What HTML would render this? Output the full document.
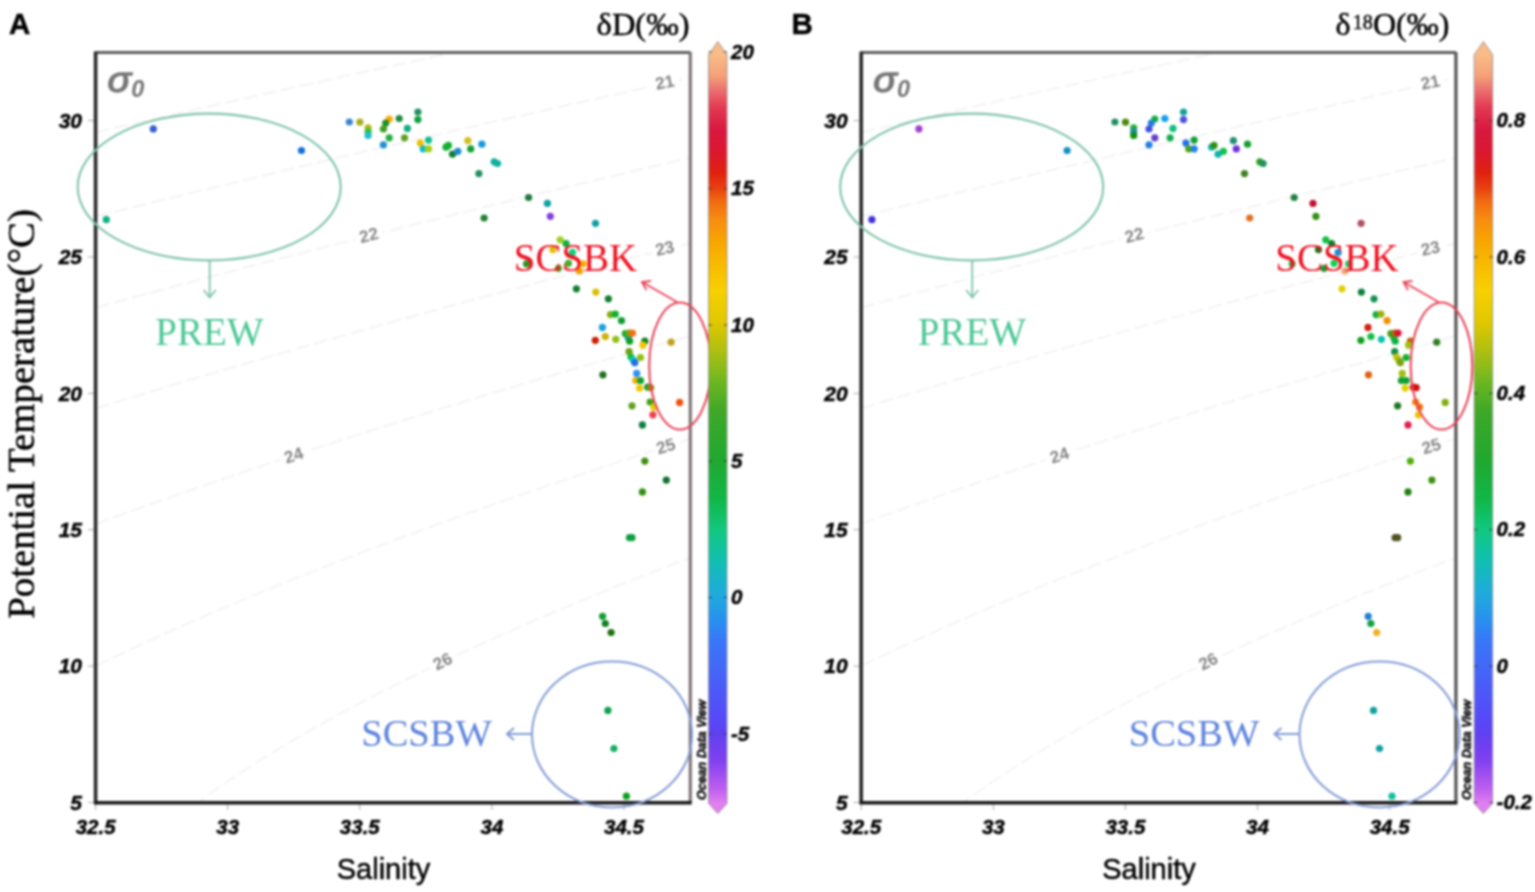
<!DOCTYPE html>
<html><head><meta charset="utf-8"><title>T-S diagrams</title>
<style>html,body{margin:0;padding:0;background:#fff;}svg{display:block;}#fig{filter:blur(0.8px);}text.k{stroke:#000;stroke-width:0.45px;}</style></head>
<body>
<div id="fig">
<svg width="1535" height="892" viewBox="0 0 1535 892">
<defs><clipPath id="clipA"><rect x="96" y="54" width="594" height="748"/></clipPath><clipPath id="clipB"><rect x="861.6" y="54" width="594" height="748"/></clipPath></defs>
<rect width="1535" height="892" fill="#fff"/>
<g clip-path="url(#clipA)">
<path d="M95.6,132.3 L105.7,130.0 L115.8,127.6 L125.8,125.3 L135.9,123.0 L146.0,120.7 L156.1,118.4 L166.1,116.1 L176.2,113.8 L186.3,111.6 L196.4,109.3 L206.4,107.0 L216.5,104.7 L226.6,102.5 L236.7,100.2 L246.7,98.0 L256.8,95.7 L266.9,93.5 L277.0,91.2 L287.0,89.0 L297.1,86.8 L307.2,84.5 L317.3,82.3 L327.3,80.1 L337.4,77.9 L347.5,75.6 L357.6,73.4 L367.6,71.2 L377.7,69.0 L387.8,66.8 L397.9,64.6 L407.9,62.4 L418.0,60.3 L428.1,58.1 L438.2,55.9 L448.2,53.7 L458.3,51.6 L468.4,49.4 L478.5,47.2 L488.5,45.1 L498.6,42.9 L508.7,40.8 L518.8,38.6 L528.8,36.5 L538.9,34.3 L549.0,32.2 L559.1,30.1 L569.1,27.9 L579.2,25.8 L589.3,23.7 L599.4,21.6 L609.4,19.4 L619.5,17.3 L629.6,15.2 L639.7,13.1 L649.7,11.0 L659.8,8.9 L669.9,6.8 L680.0,4.7 L690.0,2.6" fill="none" stroke="#ebe8e8" stroke-width="1" stroke-dasharray="14 5"/>
<path d="M95.6,216.5 L105.7,214.0 L115.8,211.5 L125.8,209.0 L135.9,206.5 L146.0,204.0 L156.1,201.5 L166.1,199.1 L176.2,196.6 L186.3,194.2 L196.4,191.7 L206.4,189.3 L216.5,186.8 L226.6,184.4 L236.7,182.0 L246.7,179.6 L256.8,177.1 L266.9,174.7 L277.0,172.3 L287.0,169.9 L297.1,167.5 L307.2,165.1 L317.3,162.8 L327.3,160.4 L337.4,158.0 L347.5,155.6 L357.6,153.3 L367.6,150.9 L377.7,148.6 L387.8,146.2 L397.9,143.9 L407.9,141.6 L418.0,139.2 L428.1,136.9 L438.2,134.6 L448.2,132.3 L458.3,129.9 L468.4,127.6 L478.5,125.3 L488.5,123.0 L498.6,120.7 L508.7,118.5 L518.8,116.2 L528.8,113.9 L538.9,111.6 L549.0,109.3 L559.1,107.1 L569.1,104.8 L579.2,102.6 L589.3,100.3 L599.4,98.1 L609.4,95.8 L619.5,93.6 L629.6,91.3 L639.7,89.1 L649.7,86.9 L659.8,84.7 L669.9,82.4 L680.0,80.2 L690.0,78.0" fill="none" stroke="#ebe8e8" stroke-width="1" stroke-dasharray="14 5"/>
<path d="M95.6,307.7 L105.7,304.9 L115.8,302.2 L125.8,299.4 L135.9,296.7 L146.0,294.0 L156.1,291.3 L166.1,288.6 L176.2,285.9 L186.3,283.2 L196.4,280.5 L206.4,277.9 L216.5,275.2 L226.6,272.6 L236.7,269.9 L246.7,267.3 L256.8,264.6 L266.9,262.0 L277.0,259.4 L287.0,256.8 L297.1,254.2 L307.2,251.6 L317.3,249.0 L327.3,246.4 L337.4,243.9 L347.5,241.3 L357.6,238.8 L367.6,236.2 L377.7,233.7 L387.8,231.1 L397.9,228.6 L407.9,226.1 L418.0,223.5 L428.1,221.0 L438.2,218.5 L448.2,216.0 L458.3,213.5 L468.4,211.1 L478.5,208.6 L488.5,206.1 L498.6,203.6 L508.7,201.2 L518.8,198.7 L528.8,196.3 L538.9,193.8 L549.0,191.4 L559.1,189.0 L569.1,186.5 L579.2,184.1 L589.3,181.7 L599.4,179.3 L609.4,176.9 L619.5,174.5 L629.6,172.1 L639.7,169.7 L649.7,167.3 L659.8,164.9 L669.9,162.6 L680.0,160.2 L690.0,157.8" fill="none" stroke="#ebe8e8" stroke-width="1" stroke-dasharray="14 5"/>
<path d="M95.6,408.5 L105.7,405.4 L115.8,402.3 L125.8,399.2 L135.9,396.2 L146.0,393.1 L156.1,390.1 L166.1,387.0 L176.2,384.0 L186.3,381.0 L196.4,378.0 L206.4,375.0 L216.5,372.1 L226.6,369.1 L236.7,366.2 L246.7,363.2 L256.8,360.3 L266.9,357.4 L277.0,354.5 L287.0,351.6 L297.1,348.7 L307.2,345.8 L317.3,343.0 L327.3,340.1 L337.4,337.3 L347.5,334.4 L357.6,331.6 L367.6,328.8 L377.7,326.0 L387.8,323.2 L397.9,320.4 L407.9,317.6 L418.0,314.9 L428.1,312.1 L438.2,309.4 L448.2,306.6 L458.3,303.9 L468.4,301.2 L478.5,298.5 L488.5,295.7 L498.6,293.0 L508.7,290.4 L518.8,287.7 L528.8,285.0 L538.9,282.3 L549.0,279.7 L559.1,277.0 L569.1,274.4 L579.2,271.7 L589.3,269.1 L599.4,266.5 L609.4,263.9 L619.5,261.3 L629.6,258.7 L639.7,256.1 L649.7,253.5 L659.8,250.9 L669.9,248.3 L680.0,245.8 L690.0,243.2" fill="none" stroke="#ebe8e8" stroke-width="1" stroke-dasharray="14 5"/>
<path d="M95.6,523.9 L105.7,520.3 L115.8,516.6 L125.8,513.0 L135.9,509.4 L146.0,505.8 L156.1,502.2 L166.1,498.7 L176.2,495.1 L186.3,491.6 L196.4,488.2 L206.4,484.7 L216.5,481.2 L226.6,477.8 L236.7,474.4 L246.7,471.0 L256.8,467.6 L266.9,464.3 L277.0,461.0 L287.0,457.6 L297.1,454.3 L307.2,451.0 L317.3,447.8 L327.3,444.5 L337.4,441.3 L347.5,438.0 L357.6,434.8 L367.6,431.6 L377.7,428.4 L387.8,425.3 L397.9,422.1 L407.9,419.0 L418.0,415.9 L428.1,412.7 L438.2,409.6 L448.2,406.6 L458.3,403.5 L468.4,400.4 L478.5,397.4 L488.5,394.3 L498.6,391.3 L508.7,388.3 L518.8,385.3 L528.8,382.3 L538.9,379.3 L549.0,376.4 L559.1,373.4 L569.1,370.5 L579.2,367.5 L589.3,364.6 L599.4,361.7 L609.4,358.8 L619.5,355.9 L629.6,353.0 L639.7,350.2 L649.7,347.3 L659.8,344.4 L669.9,341.6 L680.0,338.8 L690.0,336.0" fill="none" stroke="#ebe8e8" stroke-width="1" stroke-dasharray="14 5"/>
<path d="M95.6,666.0 L105.7,661.1 L115.8,656.3 L125.8,651.6 L135.9,646.9 L146.0,642.2 L156.1,637.6 L166.1,633.1 L176.2,628.6 L186.3,624.1 L196.4,619.7 L206.4,615.4 L216.5,611.0 L226.6,606.7 L236.7,602.5 L246.7,598.3 L256.8,594.1 L266.9,590.0 L277.0,585.8 L287.0,581.8 L297.1,577.7 L307.2,573.7 L317.3,569.7 L327.3,565.8 L337.4,561.9 L347.5,558.0 L357.6,554.1 L367.6,550.3 L377.7,546.5 L387.8,542.7 L397.9,538.9 L407.9,535.2 L418.0,531.5 L428.1,527.8 L438.2,524.1 L448.2,520.5 L458.3,516.9 L468.4,513.3 L478.5,509.7 L488.5,506.1 L498.6,502.6 L508.7,499.1 L518.8,495.6 L528.8,492.1 L538.9,488.7 L549.0,485.2 L559.1,481.8 L569.1,478.4 L579.2,475.0 L589.3,471.7 L599.4,468.3 L609.4,465.0 L619.5,461.7 L629.6,458.4 L639.7,455.1 L649.7,451.8 L659.8,448.6 L669.9,445.3 L680.0,442.1 L690.0,438.9" fill="none" stroke="#ebe8e8" stroke-width="1" stroke-dasharray="14 5"/>
<path d="M95.6,896.4 L105.7,884.5 L115.8,873.4 L125.8,863.1 L135.9,853.4 L146.0,844.2 L156.1,835.4 L166.1,827.0 L176.2,818.9 L186.3,811.1 L196.4,803.5 L206.4,796.2 L216.5,789.0 L226.6,782.1 L236.7,775.4 L246.7,768.8 L256.8,762.3 L266.9,756.0 L277.0,749.9 L287.0,743.8 L297.1,737.9 L307.2,732.1 L317.3,726.4 L327.3,720.7 L337.4,715.2 L347.5,709.8 L357.6,704.4 L367.6,699.1 L377.7,693.9 L387.8,688.8 L397.9,683.7 L407.9,678.7 L418.0,673.8 L428.1,668.9 L438.2,664.1 L448.2,659.3 L458.3,654.6 L468.4,649.9 L478.5,645.3 L488.5,640.8 L498.6,636.3 L508.7,631.8 L518.8,627.4 L528.8,623.0 L538.9,618.6 L549.0,614.3 L559.1,610.1 L569.1,605.9 L579.2,601.7 L589.3,597.5 L599.4,593.4 L609.4,589.3 L619.5,585.2 L629.6,581.2 L639.7,577.2 L649.7,573.3 L659.8,569.3 L669.9,565.4 L680.0,561.6 L690.0,557.7" fill="none" stroke="#ebe8e8" stroke-width="1" stroke-dasharray="14 5"/>
<rect x="651" y="73" width="28" height="20" fill="#fff" transform="rotate(-12 665 83)"/>
<text x="665" y="88" text-anchor="middle" font-family="Liberation Sans, sans-serif" font-weight="bold" font-size="17" fill="#858585" transform="rotate(-12 665 83)">21</text>
<rect x="355" y="226" width="28" height="20" fill="#fff" transform="rotate(-14 369 236)"/>
<text x="369" y="241" text-anchor="middle" font-family="Liberation Sans, sans-serif" font-weight="bold" font-size="17" fill="#858585" transform="rotate(-14 369 236)">22</text>
<rect x="651" y="239" width="28" height="20" fill="#fff" transform="rotate(-13 665 249)"/>
<text x="665" y="254" text-anchor="middle" font-family="Liberation Sans, sans-serif" font-weight="bold" font-size="17" fill="#858585" transform="rotate(-13 665 249)">23</text>
<rect x="280" y="446" width="28" height="20" fill="#fff" transform="rotate(-18 294 456)"/>
<text x="294" y="461" text-anchor="middle" font-family="Liberation Sans, sans-serif" font-weight="bold" font-size="17" fill="#858585" transform="rotate(-18 294 456)">24</text>
<rect x="652" y="437" width="28" height="20" fill="#fff" transform="rotate(-17 666 447)"/>
<text x="666" y="452" text-anchor="middle" font-family="Liberation Sans, sans-serif" font-weight="bold" font-size="17" fill="#858585" transform="rotate(-17 666 447)">25</text>
<rect x="429" y="652" width="28" height="20" fill="#fff" transform="rotate(-27 443 662)"/>
<text x="443" y="667" text-anchor="middle" font-family="Liberation Sans, sans-serif" font-weight="bold" font-size="17" fill="#858585" transform="rotate(-27 443 662)">26</text>
</g>
<line x1="88" y1="802.5" x2="94" y2="802.5" stroke="#aaa" stroke-width="1"/>
<text x="82" y="809.8" text-anchor="end" class="k" font-family="Liberation Sans, sans-serif" font-weight="bold" font-style="italic" font-size="21">5</text>
<line x1="88" y1="666.1" x2="94" y2="666.1" stroke="#aaa" stroke-width="1"/>
<text x="82" y="673.4" text-anchor="end" class="k" font-family="Liberation Sans, sans-serif" font-weight="bold" font-style="italic" font-size="21">10</text>
<line x1="88" y1="529.7" x2="94" y2="529.7" stroke="#aaa" stroke-width="1"/>
<text x="82" y="537.0" text-anchor="end" class="k" font-family="Liberation Sans, sans-serif" font-weight="bold" font-style="italic" font-size="21">15</text>
<line x1="88" y1="393.4" x2="94" y2="393.4" stroke="#aaa" stroke-width="1"/>
<text x="82" y="400.7" text-anchor="end" class="k" font-family="Liberation Sans, sans-serif" font-weight="bold" font-style="italic" font-size="21">20</text>
<line x1="88" y1="257.0" x2="94" y2="257.0" stroke="#aaa" stroke-width="1"/>
<text x="82" y="264.3" text-anchor="end" class="k" font-family="Liberation Sans, sans-serif" font-weight="bold" font-style="italic" font-size="21">25</text>
<line x1="88" y1="120.6" x2="94" y2="120.6" stroke="#aaa" stroke-width="1"/>
<text x="82" y="127.9" text-anchor="end" class="k" font-family="Liberation Sans, sans-serif" font-weight="bold" font-style="italic" font-size="21">30</text>
<line x1="95.6" y1="804" x2="95.6" y2="810" stroke="#aaa" stroke-width="1"/>
<text x="95.6" y="833.5" text-anchor="middle" class="k" font-family="Liberation Sans, sans-serif" font-weight="bold" font-style="italic" font-size="20.5">32.5</text>
<line x1="227.7" y1="804" x2="227.7" y2="810" stroke="#aaa" stroke-width="1"/>
<text x="227.7" y="833.5" text-anchor="middle" class="k" font-family="Liberation Sans, sans-serif" font-weight="bold" font-style="italic" font-size="20.5">33</text>
<line x1="359.8" y1="804" x2="359.8" y2="810" stroke="#aaa" stroke-width="1"/>
<text x="359.8" y="833.5" text-anchor="middle" class="k" font-family="Liberation Sans, sans-serif" font-weight="bold" font-style="italic" font-size="20.5">33.5</text>
<line x1="491.9" y1="804" x2="491.9" y2="810" stroke="#aaa" stroke-width="1"/>
<text x="491.9" y="833.5" text-anchor="middle" class="k" font-family="Liberation Sans, sans-serif" font-weight="bold" font-style="italic" font-size="20.5">34</text>
<line x1="624.0" y1="804" x2="624.0" y2="810" stroke="#aaa" stroke-width="1"/>
<text x="624.0" y="833.5" text-anchor="middle" class="k" font-family="Liberation Sans, sans-serif" font-weight="bold" font-style="italic" font-size="20.5">34.5</text>
<path d="M95.6,52.6 L690.3,52.6" fill="none" stroke="#5e5e5e" stroke-width="3"/>
<path d="M690.3,52 L690.3,802.8" fill="none" stroke="#7f7278" stroke-width="3.2"/>
<path d="M95.6,51.5 L95.6,804.3" fill="none" stroke="#282828" stroke-width="3.6"/>
<path d="M94.1,802.8 L691.7,802.8" fill="none" stroke="#181818" stroke-width="3.6"/>
<text transform="translate(107.6,92) scale(1.12,1)" font-family="Liberation Sans, sans-serif" font-style="italic" font-size="35" fill="#777" stroke="#777" stroke-width="1.3">σ</text>
<text x="131.3" y="96.6" font-family="Liberation Sans, sans-serif" font-weight="bold" font-style="italic" font-size="23.5" fill="#777">0</text>
<circle cx="349.3" cy="122.0" r="3.6" fill="#3a86d0"/>
<circle cx="359.9" cy="122.2" r="3.6" fill="#a8b020"/>
<circle cx="368.1" cy="127.8" r="3.6" fill="#b0b818"/>
<circle cx="368.1" cy="131.9" r="3.6" fill="#30c040"/>
<circle cx="368.1" cy="135.5" r="3.6" fill="#20c0d0"/>
<circle cx="389.2" cy="119.0" r="3.6" fill="#ffaa00"/>
<circle cx="385.7" cy="123.1" r="3.6" fill="#209020"/>
<circle cx="383.4" cy="129.0" r="3.6" fill="#40a020"/>
<circle cx="399.2" cy="118.5" r="3.6" fill="#208a40"/>
<circle cx="389.2" cy="137.8" r="3.6" fill="#20b040"/>
<circle cx="383.4" cy="144.8" r="3.6" fill="#2090d0"/>
<circle cx="407.4" cy="128.4" r="3.6" fill="#10b080"/>
<circle cx="404.5" cy="137.8" r="3.6" fill="#60a020"/>
<circle cx="417.9" cy="112.0" r="3.6" fill="#209060"/>
<circle cx="417.9" cy="119.6" r="3.6" fill="#10a040"/>
<circle cx="428.5" cy="140.1" r="3.6" fill="#10c090"/>
<circle cx="420.3" cy="143.1" r="3.6" fill="#f0c000"/>
<circle cx="423.2" cy="148.9" r="3.6" fill="#10b8d0"/>
<circle cx="428.5" cy="148.9" r="3.6" fill="#a0d010"/>
<circle cx="446.0" cy="147.2" r="3.6" fill="#10b030"/>
<circle cx="448.4" cy="145.4" r="3.6" fill="#10b030"/>
<circle cx="452.5" cy="154.2" r="3.6" fill="#108030"/>
<circle cx="457.8" cy="151.3" r="3.6" fill="#2088d0"/>
<circle cx="467.8" cy="140.7" r="3.6" fill="#d0c020"/>
<circle cx="470.7" cy="148.9" r="3.6" fill="#10a030"/>
<circle cx="481.9" cy="144.2" r="3.6" fill="#1898e0"/>
<circle cx="494.2" cy="161.8" r="3.6" fill="#10b0a0"/>
<circle cx="497.5" cy="163.5" r="3.6" fill="#10b0a0"/>
<circle cx="478.9" cy="173.6" r="3.6" fill="#209060"/>
<circle cx="528.6" cy="197.5" r="3.6" fill="#207840"/>
<circle cx="547.4" cy="203.4" r="3.6" fill="#10a0a0"/>
<circle cx="484.1" cy="218.0" r="3.6" fill="#208030"/>
<circle cx="550.3" cy="216.3" r="3.6" fill="#8040e0"/>
<circle cx="595.5" cy="223.3" r="3.6" fill="#10a0a0"/>
<circle cx="560.2" cy="239.8" r="3.6" fill="#a0d020"/>
<circle cx="566.1" cy="243.7" r="3.6" fill="#10b040"/>
<circle cx="552.9" cy="249.6" r="3.6" fill="#e0c000"/>
<circle cx="572.5" cy="252.4" r="3.6" fill="#10d080"/>
<circle cx="526.5" cy="263.8" r="3.6" fill="#309020"/>
<circle cx="558.4" cy="268.3" r="3.6" fill="#50a020"/>
<circle cx="568.4" cy="263.3" r="3.6" fill="#40b020"/>
<circle cx="583.0" cy="263.8" r="3.6" fill="#f0b000"/>
<circle cx="579.4" cy="271.0" r="3.6" fill="#f0a000"/>
<circle cx="576.4" cy="288.8" r="3.6" fill="#108030"/>
<circle cx="595.8" cy="292.1" r="3.6" fill="#d8c000"/>
<circle cx="608.4" cy="298.8" r="3.6" fill="#108030"/>
<circle cx="610.5" cy="314.6" r="3.6" fill="#80b010"/>
<circle cx="615.3" cy="314.1" r="3.6" fill="#10b030"/>
<circle cx="621.5" cy="320.7" r="3.6" fill="#10a030"/>
<circle cx="602.4" cy="327.4" r="3.6" fill="#20a0e0"/>
<circle cx="605.3" cy="336.5" r="3.6" fill="#d0b000"/>
<circle cx="595.3" cy="340.3" r="3.6" fill="#cc2000"/>
<circle cx="615.8" cy="339.3" r="3.6" fill="#90c010"/>
<circle cx="628.2" cy="337.4" r="3.6" fill="#2090c0"/>
<circle cx="625.3" cy="333.6" r="3.6" fill="#10b030"/>
<circle cx="629.1" cy="333.1" r="3.6" fill="#80a010"/>
<circle cx="632.4" cy="333.1" r="3.6" fill="#f07010"/>
<circle cx="629.6" cy="341.2" r="3.6" fill="#10a020"/>
<circle cx="644.8" cy="341.2" r="3.6" fill="#108020"/>
<circle cx="642.9" cy="345.1" r="3.6" fill="#f0c800"/>
<circle cx="671.1" cy="342.2" r="3.6" fill="#c0a020"/>
<circle cx="629.1" cy="351.7" r="3.6" fill="#70a010"/>
<circle cx="631.0" cy="357.0" r="3.6" fill="#10c040"/>
<circle cx="640.5" cy="357.5" r="3.6" fill="#90c010"/>
<circle cx="633.4" cy="360.3" r="3.6" fill="#10c0e0"/>
<circle cx="634.8" cy="362.7" r="3.6" fill="#2070e0"/>
<circle cx="602.9" cy="374.8" r="3.6" fill="#207020"/>
<circle cx="636.7" cy="373.4" r="3.6" fill="#3090f0"/>
<circle cx="635.8" cy="380.5" r="3.6" fill="#f0b000"/>
<circle cx="640.5" cy="380.5" r="3.6" fill="#10a030"/>
<circle cx="639.6" cy="388.1" r="3.6" fill="#f0c800"/>
<circle cx="647.7" cy="387.2" r="3.6" fill="#10a030"/>
<circle cx="650.6" cy="387.7" r="3.6" fill="#a08010"/>
<circle cx="632.0" cy="405.8" r="3.6" fill="#60a020"/>
<circle cx="650.1" cy="402.0" r="3.6" fill="#40a010"/>
<circle cx="653.9" cy="407.2" r="3.6" fill="#e0d000"/>
<circle cx="652.9" cy="414.8" r="3.6" fill="#f04050"/>
<circle cx="679.6" cy="402.4" r="3.6" fill="#f05010"/>
<circle cx="642.4" cy="424.9" r="3.6" fill="#108040"/>
<circle cx="644.8" cy="461.1" r="3.6" fill="#409010"/>
<circle cx="666.3" cy="480.1" r="3.6" fill="#107030"/>
<circle cx="642.4" cy="491.9" r="3.6" fill="#309010"/>
<circle cx="629.5" cy="537.7" r="3.6" fill="#10a040"/>
<circle cx="632.0" cy="537.7" r="3.6" fill="#10a040"/>
<circle cx="602.6" cy="616.3" r="3.6" fill="#10a030"/>
<circle cx="605.3" cy="623.5" r="3.6" fill="#108020"/>
<circle cx="611.1" cy="632.5" r="3.6" fill="#207010"/>
<circle cx="607.9" cy="710.4" r="3.6" fill="#10a050"/>
<circle cx="613.9" cy="748.5" r="3.6" fill="#10b060"/>
<circle cx="626.4" cy="796.2" r="3.6" fill="#10a020"/>
<circle cx="153.3" cy="128.9" r="3.6" fill="#3060d0"/>
<circle cx="301.5" cy="150.5" r="3.6" fill="#1070e0"/>
<circle cx="106.3" cy="219.7" r="3.6" fill="#10b080"/>
<ellipse cx="209.2" cy="187" rx="131.5" ry="73.4" fill="none" stroke="#80c4ac" stroke-width="2.1"/>
<path d="M209.7,260.5 L209.7,297.5 M203.7,290 L209.7,297.5 L215.7,290" fill="none" stroke="#80c4ac" stroke-width="1.8"/>
<text x="209.4" y="345" text-anchor="middle" font-family="Liberation Serif, serif" font-size="39" fill="#4cc796">PREW</text>
<text x="575.5" y="271" text-anchor="middle" font-family="Liberation Serif, serif" font-size="39" fill="#f01020">SCSBK</text>
<ellipse cx="680" cy="366" rx="30.8" ry="63.5" fill="none" stroke="#ea4458" stroke-width="2.1"/>
<path d="M677,302 L642,282 M651,281 L642,282 L646.5,290" fill="none" stroke="#ea4458" stroke-width="1.8"/>
<ellipse cx="612" cy="734.4" rx="80" ry="73" fill="none" stroke="#849cd6" stroke-width="2"/>
<path d="M532,734 L507,734 M514,728 L507,734 L514,740" fill="none" stroke="#849cd6" stroke-width="2"/>
<text x="426.5" y="746" text-anchor="middle" font-family="Liberation Serif, serif" font-size="38.5" fill="#5f84dc">SCSBW</text>
<g clip-path="url(#clipB)">
<path d="M861.2,132.3 L871.3,130.0 L881.4,127.6 L891.4,125.3 L901.5,123.0 L911.6,120.7 L921.7,118.4 L931.7,116.1 L941.8,113.8 L951.9,111.6 L962.0,109.3 L972.0,107.0 L982.1,104.7 L992.2,102.5 L1002.3,100.2 L1012.3,98.0 L1022.4,95.7 L1032.5,93.5 L1042.6,91.2 L1052.6,89.0 L1062.7,86.8 L1072.8,84.5 L1082.9,82.3 L1092.9,80.1 L1103.0,77.9 L1113.1,75.6 L1123.2,73.4 L1133.2,71.2 L1143.3,69.0 L1153.4,66.8 L1163.5,64.6 L1173.5,62.4 L1183.6,60.3 L1193.7,58.1 L1203.8,55.9 L1213.8,53.7 L1223.9,51.6 L1234.0,49.4 L1244.1,47.2 L1254.1,45.1 L1264.2,42.9 L1274.3,40.8 L1284.4,38.6 L1294.4,36.5 L1304.5,34.3 L1314.6,32.2 L1324.7,30.1 L1334.7,27.9 L1344.8,25.8 L1354.9,23.7 L1365.0,21.6 L1375.0,19.4 L1385.1,17.3 L1395.2,15.2 L1405.3,13.1 L1415.3,11.0 L1425.4,8.9 L1435.5,6.8 L1445.6,4.7 L1455.7,2.6" fill="none" stroke="#ebe8e8" stroke-width="1" stroke-dasharray="14 5"/>
<path d="M861.2,216.5 L871.3,214.0 L881.4,211.5 L891.4,209.0 L901.5,206.5 L911.6,204.0 L921.7,201.5 L931.7,199.1 L941.8,196.6 L951.9,194.2 L962.0,191.7 L972.0,189.3 L982.1,186.8 L992.2,184.4 L1002.3,182.0 L1012.3,179.6 L1022.4,177.1 L1032.5,174.7 L1042.6,172.3 L1052.6,169.9 L1062.7,167.5 L1072.8,165.1 L1082.9,162.8 L1092.9,160.4 L1103.0,158.0 L1113.1,155.6 L1123.2,153.3 L1133.2,150.9 L1143.3,148.6 L1153.4,146.2 L1163.5,143.9 L1173.5,141.6 L1183.6,139.2 L1193.7,136.9 L1203.8,134.6 L1213.8,132.3 L1223.9,129.9 L1234.0,127.6 L1244.1,125.3 L1254.1,123.0 L1264.2,120.7 L1274.3,118.5 L1284.4,116.2 L1294.4,113.9 L1304.5,111.6 L1314.6,109.3 L1324.7,107.1 L1334.7,104.8 L1344.8,102.6 L1354.9,100.3 L1365.0,98.1 L1375.0,95.8 L1385.1,93.6 L1395.2,91.3 L1405.3,89.1 L1415.3,86.9 L1425.4,84.7 L1435.5,82.4 L1445.6,80.2 L1455.7,78.0" fill="none" stroke="#ebe8e8" stroke-width="1" stroke-dasharray="14 5"/>
<path d="M861.2,307.7 L871.3,304.9 L881.4,302.2 L891.4,299.4 L901.5,296.7 L911.6,294.0 L921.7,291.3 L931.7,288.6 L941.8,285.9 L951.9,283.2 L962.0,280.5 L972.0,277.9 L982.1,275.2 L992.2,272.6 L1002.3,269.9 L1012.3,267.3 L1022.4,264.6 L1032.5,262.0 L1042.6,259.4 L1052.6,256.8 L1062.7,254.2 L1072.8,251.6 L1082.9,249.0 L1092.9,246.4 L1103.0,243.9 L1113.1,241.3 L1123.2,238.8 L1133.2,236.2 L1143.3,233.7 L1153.4,231.1 L1163.5,228.6 L1173.5,226.1 L1183.6,223.5 L1193.7,221.0 L1203.8,218.5 L1213.8,216.0 L1223.9,213.5 L1234.0,211.1 L1244.1,208.6 L1254.1,206.1 L1264.2,203.6 L1274.3,201.2 L1284.4,198.7 L1294.4,196.3 L1304.5,193.8 L1314.6,191.4 L1324.7,189.0 L1334.7,186.5 L1344.8,184.1 L1354.9,181.7 L1365.0,179.3 L1375.0,176.9 L1385.1,174.5 L1395.2,172.1 L1405.3,169.7 L1415.3,167.3 L1425.4,164.9 L1435.5,162.6 L1445.6,160.2 L1455.7,157.8" fill="none" stroke="#ebe8e8" stroke-width="1" stroke-dasharray="14 5"/>
<path d="M861.2,408.5 L871.3,405.4 L881.4,402.3 L891.4,399.2 L901.5,396.2 L911.6,393.1 L921.7,390.1 L931.7,387.0 L941.8,384.0 L951.9,381.0 L962.0,378.0 L972.0,375.0 L982.1,372.1 L992.2,369.1 L1002.3,366.2 L1012.3,363.2 L1022.4,360.3 L1032.5,357.4 L1042.6,354.5 L1052.6,351.6 L1062.7,348.7 L1072.8,345.8 L1082.9,343.0 L1092.9,340.1 L1103.0,337.3 L1113.1,334.4 L1123.2,331.6 L1133.2,328.8 L1143.3,326.0 L1153.4,323.2 L1163.5,320.4 L1173.5,317.6 L1183.6,314.9 L1193.7,312.1 L1203.8,309.4 L1213.8,306.6 L1223.9,303.9 L1234.0,301.2 L1244.1,298.5 L1254.1,295.7 L1264.2,293.0 L1274.3,290.4 L1284.4,287.7 L1294.4,285.0 L1304.5,282.3 L1314.6,279.7 L1324.7,277.0 L1334.7,274.4 L1344.8,271.7 L1354.9,269.1 L1365.0,266.5 L1375.0,263.9 L1385.1,261.3 L1395.2,258.7 L1405.3,256.1 L1415.3,253.5 L1425.4,250.9 L1435.5,248.3 L1445.6,245.8 L1455.7,243.2" fill="none" stroke="#ebe8e8" stroke-width="1" stroke-dasharray="14 5"/>
<path d="M861.2,523.9 L871.3,520.3 L881.4,516.6 L891.4,513.0 L901.5,509.4 L911.6,505.8 L921.7,502.2 L931.7,498.7 L941.8,495.1 L951.9,491.6 L962.0,488.2 L972.0,484.7 L982.1,481.2 L992.2,477.8 L1002.3,474.4 L1012.3,471.0 L1022.4,467.6 L1032.5,464.3 L1042.6,461.0 L1052.6,457.6 L1062.7,454.3 L1072.8,451.0 L1082.9,447.8 L1092.9,444.5 L1103.0,441.3 L1113.1,438.0 L1123.2,434.8 L1133.2,431.6 L1143.3,428.4 L1153.4,425.3 L1163.5,422.1 L1173.5,419.0 L1183.6,415.9 L1193.7,412.7 L1203.8,409.6 L1213.8,406.6 L1223.9,403.5 L1234.0,400.4 L1244.1,397.4 L1254.1,394.3 L1264.2,391.3 L1274.3,388.3 L1284.4,385.3 L1294.4,382.3 L1304.5,379.3 L1314.6,376.4 L1324.7,373.4 L1334.7,370.5 L1344.8,367.5 L1354.9,364.6 L1365.0,361.7 L1375.0,358.8 L1385.1,355.9 L1395.2,353.0 L1405.3,350.2 L1415.3,347.3 L1425.4,344.4 L1435.5,341.6 L1445.6,338.8 L1455.7,336.0" fill="none" stroke="#ebe8e8" stroke-width="1" stroke-dasharray="14 5"/>
<path d="M861.2,666.0 L871.3,661.1 L881.4,656.3 L891.4,651.6 L901.5,646.9 L911.6,642.2 L921.7,637.6 L931.7,633.1 L941.8,628.6 L951.9,624.1 L962.0,619.7 L972.0,615.4 L982.1,611.0 L992.2,606.7 L1002.3,602.5 L1012.3,598.3 L1022.4,594.1 L1032.5,590.0 L1042.6,585.8 L1052.6,581.8 L1062.7,577.7 L1072.8,573.7 L1082.9,569.7 L1092.9,565.8 L1103.0,561.9 L1113.1,558.0 L1123.2,554.1 L1133.2,550.3 L1143.3,546.5 L1153.4,542.7 L1163.5,538.9 L1173.5,535.2 L1183.6,531.5 L1193.7,527.8 L1203.8,524.1 L1213.8,520.5 L1223.9,516.9 L1234.0,513.3 L1244.1,509.7 L1254.1,506.1 L1264.2,502.6 L1274.3,499.1 L1284.4,495.6 L1294.4,492.1 L1304.5,488.7 L1314.6,485.2 L1324.7,481.8 L1334.7,478.4 L1344.8,475.0 L1354.9,471.7 L1365.0,468.3 L1375.0,465.0 L1385.1,461.7 L1395.2,458.4 L1405.3,455.1 L1415.3,451.8 L1425.4,448.6 L1435.5,445.3 L1445.6,442.1 L1455.7,438.9" fill="none" stroke="#ebe8e8" stroke-width="1" stroke-dasharray="14 5"/>
<path d="M861.2,896.4 L871.3,884.5 L881.4,873.4 L891.4,863.1 L901.5,853.4 L911.6,844.2 L921.7,835.4 L931.7,827.0 L941.8,818.9 L951.9,811.1 L962.0,803.5 L972.0,796.2 L982.1,789.0 L992.2,782.1 L1002.3,775.4 L1012.3,768.8 L1022.4,762.3 L1032.5,756.0 L1042.6,749.9 L1052.6,743.8 L1062.7,737.9 L1072.8,732.1 L1082.9,726.4 L1092.9,720.7 L1103.0,715.2 L1113.1,709.8 L1123.2,704.4 L1133.2,699.1 L1143.3,693.9 L1153.4,688.8 L1163.5,683.7 L1173.5,678.7 L1183.6,673.8 L1193.7,668.9 L1203.8,664.1 L1213.8,659.3 L1223.9,654.6 L1234.0,649.9 L1244.1,645.3 L1254.1,640.8 L1264.2,636.3 L1274.3,631.8 L1284.4,627.4 L1294.4,623.0 L1304.5,618.6 L1314.6,614.3 L1324.7,610.1 L1334.7,605.9 L1344.8,601.7 L1354.9,597.5 L1365.0,593.4 L1375.0,589.3 L1385.1,585.2 L1395.2,581.2 L1405.3,577.2 L1415.3,573.3 L1425.4,569.3 L1435.5,565.4 L1445.6,561.6 L1455.7,557.7" fill="none" stroke="#ebe8e8" stroke-width="1" stroke-dasharray="14 5"/>
<rect x="1416.6" y="73" width="28" height="20" fill="#fff" transform="rotate(-12 1430.6 83)"/>
<text x="1430.6" y="88" text-anchor="middle" font-family="Liberation Sans, sans-serif" font-weight="bold" font-size="17" fill="#858585" transform="rotate(-12 1430.6 83)">21</text>
<rect x="1120.6" y="226" width="28" height="20" fill="#fff" transform="rotate(-14 1134.6 236)"/>
<text x="1134.6" y="241" text-anchor="middle" font-family="Liberation Sans, sans-serif" font-weight="bold" font-size="17" fill="#858585" transform="rotate(-14 1134.6 236)">22</text>
<rect x="1416.6" y="239" width="28" height="20" fill="#fff" transform="rotate(-13 1430.6 249)"/>
<text x="1430.6" y="254" text-anchor="middle" font-family="Liberation Sans, sans-serif" font-weight="bold" font-size="17" fill="#858585" transform="rotate(-13 1430.6 249)">23</text>
<rect x="1045.6" y="446" width="28" height="20" fill="#fff" transform="rotate(-18 1059.6 456)"/>
<text x="1059.6" y="461" text-anchor="middle" font-family="Liberation Sans, sans-serif" font-weight="bold" font-size="17" fill="#858585" transform="rotate(-18 1059.6 456)">24</text>
<rect x="1417.6" y="437" width="28" height="20" fill="#fff" transform="rotate(-17 1431.6 447)"/>
<text x="1431.6" y="452" text-anchor="middle" font-family="Liberation Sans, sans-serif" font-weight="bold" font-size="17" fill="#858585" transform="rotate(-17 1431.6 447)">25</text>
<rect x="1194.6" y="652" width="28" height="20" fill="#fff" transform="rotate(-27 1208.6 662)"/>
<text x="1208.6" y="667" text-anchor="middle" font-family="Liberation Sans, sans-serif" font-weight="bold" font-size="17" fill="#858585" transform="rotate(-27 1208.6 662)">26</text>
</g>
<line x1="853.6" y1="802.5" x2="859.6" y2="802.5" stroke="#aaa" stroke-width="1"/>
<text x="847.6" y="809.8" text-anchor="end" class="k" font-family="Liberation Sans, sans-serif" font-weight="bold" font-style="italic" font-size="21">5</text>
<line x1="853.6" y1="666.1" x2="859.6" y2="666.1" stroke="#aaa" stroke-width="1"/>
<text x="847.6" y="673.4" text-anchor="end" class="k" font-family="Liberation Sans, sans-serif" font-weight="bold" font-style="italic" font-size="21">10</text>
<line x1="853.6" y1="529.7" x2="859.6" y2="529.7" stroke="#aaa" stroke-width="1"/>
<text x="847.6" y="537.0" text-anchor="end" class="k" font-family="Liberation Sans, sans-serif" font-weight="bold" font-style="italic" font-size="21">15</text>
<line x1="853.6" y1="393.4" x2="859.6" y2="393.4" stroke="#aaa" stroke-width="1"/>
<text x="847.6" y="400.7" text-anchor="end" class="k" font-family="Liberation Sans, sans-serif" font-weight="bold" font-style="italic" font-size="21">20</text>
<line x1="853.6" y1="257.0" x2="859.6" y2="257.0" stroke="#aaa" stroke-width="1"/>
<text x="847.6" y="264.3" text-anchor="end" class="k" font-family="Liberation Sans, sans-serif" font-weight="bold" font-style="italic" font-size="21">25</text>
<line x1="853.6" y1="120.6" x2="859.6" y2="120.6" stroke="#aaa" stroke-width="1"/>
<text x="847.6" y="127.9" text-anchor="end" class="k" font-family="Liberation Sans, sans-serif" font-weight="bold" font-style="italic" font-size="21">30</text>
<line x1="861.2" y1="804" x2="861.2" y2="810" stroke="#aaa" stroke-width="1"/>
<text x="861.2" y="833.5" text-anchor="middle" class="k" font-family="Liberation Sans, sans-serif" font-weight="bold" font-style="italic" font-size="20.5">32.5</text>
<line x1="993.3" y1="804" x2="993.3" y2="810" stroke="#aaa" stroke-width="1"/>
<text x="993.3" y="833.5" text-anchor="middle" class="k" font-family="Liberation Sans, sans-serif" font-weight="bold" font-style="italic" font-size="20.5">33</text>
<line x1="1125.4" y1="804" x2="1125.4" y2="810" stroke="#aaa" stroke-width="1"/>
<text x="1125.4" y="833.5" text-anchor="middle" class="k" font-family="Liberation Sans, sans-serif" font-weight="bold" font-style="italic" font-size="20.5">33.5</text>
<line x1="1257.5" y1="804" x2="1257.5" y2="810" stroke="#aaa" stroke-width="1"/>
<text x="1257.5" y="833.5" text-anchor="middle" class="k" font-family="Liberation Sans, sans-serif" font-weight="bold" font-style="italic" font-size="20.5">34</text>
<line x1="1389.6" y1="804" x2="1389.6" y2="810" stroke="#aaa" stroke-width="1"/>
<text x="1389.6" y="833.5" text-anchor="middle" class="k" font-family="Liberation Sans, sans-serif" font-weight="bold" font-style="italic" font-size="20.5">34.5</text>
<path d="M861.2,52.6 L1455.9,52.6" fill="none" stroke="#5e5e5e" stroke-width="3"/>
<path d="M1455.9,52 L1455.9,802.8" fill="none" stroke="#555555" stroke-width="3.2"/>
<path d="M861.2,51.5 L861.2,804.3" fill="none" stroke="#282828" stroke-width="3.6"/>
<path d="M859.7,802.8 L1457.3000000000002,802.8" fill="none" stroke="#181818" stroke-width="3.6"/>
<text transform="translate(873.2,92) scale(1.12,1)" font-family="Liberation Sans, sans-serif" font-style="italic" font-size="35" fill="#777" stroke="#777" stroke-width="1.3">σ</text>
<text x="896.9000000000001" y="96.6" font-family="Liberation Sans, sans-serif" font-weight="bold" font-style="italic" font-size="23.5" fill="#777">0</text>
<circle cx="1114.9" cy="122.0" r="3.6" fill="#209060"/>
<circle cx="1125.5" cy="122.2" r="3.6" fill="#508a10"/>
<circle cx="1133.7" cy="127.8" r="3.6" fill="#20b040"/>
<circle cx="1133.7" cy="131.9" r="3.6" fill="#2090a0"/>
<circle cx="1133.7" cy="135.5" r="3.6" fill="#109010"/>
<circle cx="1154.8" cy="119.0" r="3.6" fill="#10b040"/>
<circle cx="1151.3" cy="123.1" r="3.6" fill="#2080e0"/>
<circle cx="1149.0" cy="129.0" r="3.6" fill="#4050e0"/>
<circle cx="1164.8" cy="118.5" r="3.6" fill="#10a0f0"/>
<circle cx="1154.8" cy="137.8" r="3.6" fill="#6040d0"/>
<circle cx="1149.0" cy="144.8" r="3.6" fill="#2080e0"/>
<circle cx="1173.0" cy="128.4" r="3.6" fill="#10c080"/>
<circle cx="1170.1" cy="137.8" r="3.6" fill="#10b050"/>
<circle cx="1183.5" cy="112.0" r="3.6" fill="#10a0a0"/>
<circle cx="1183.5" cy="119.6" r="3.6" fill="#5050e0"/>
<circle cx="1194.1" cy="140.1" r="3.6" fill="#10a030"/>
<circle cx="1185.9" cy="143.1" r="3.6" fill="#2070f0"/>
<circle cx="1188.8" cy="148.9" r="3.6" fill="#50a010"/>
<circle cx="1194.1" cy="148.9" r="3.6" fill="#2080f0"/>
<circle cx="1211.6" cy="147.2" r="3.6" fill="#10b0c0"/>
<circle cx="1214.0" cy="145.4" r="3.6" fill="#309010"/>
<circle cx="1218.1" cy="154.2" r="3.6" fill="#10b0b0"/>
<circle cx="1223.4" cy="151.3" r="3.6" fill="#10c050"/>
<circle cx="1233.4" cy="140.7" r="3.6" fill="#209070"/>
<circle cx="1236.3" cy="148.9" r="3.6" fill="#7030e0"/>
<circle cx="1247.5" cy="144.2" r="3.6" fill="#10a030"/>
<circle cx="1259.8" cy="161.8" r="3.6" fill="#30a020"/>
<circle cx="1263.1" cy="163.5" r="3.6" fill="#209060"/>
<circle cx="1244.5" cy="173.6" r="3.6" fill="#408020"/>
<circle cx="1294.2" cy="197.5" r="3.6" fill="#208040"/>
<circle cx="1313.0" cy="203.4" r="3.6" fill="#c01030"/>
<circle cx="1249.7" cy="218.0" r="3.6" fill="#e07020"/>
<circle cx="1315.9" cy="216.3" r="3.6" fill="#309010"/>
<circle cx="1361.1" cy="223.3" r="3.6" fill="#b05060"/>
<circle cx="1325.8" cy="239.8" r="3.6" fill="#10c040"/>
<circle cx="1331.7" cy="243.7" r="3.6" fill="#108030"/>
<circle cx="1318.5" cy="249.6" r="3.6" fill="#207020"/>
<circle cx="1338.1" cy="252.4" r="3.6" fill="#2090d0"/>
<circle cx="1292.1" cy="263.8" r="3.6" fill="#20c040"/>
<circle cx="1324.0" cy="268.3" r="3.6" fill="#10a030"/>
<circle cx="1334.0" cy="263.3" r="3.6" fill="#10d050"/>
<circle cx="1348.6" cy="263.8" r="3.6" fill="#30c060"/>
<circle cx="1345.0" cy="271.0" r="3.6" fill="#f0a070"/>
<circle cx="1342.0" cy="288.8" r="3.6" fill="#e0d000"/>
<circle cx="1361.4" cy="292.1" r="3.6" fill="#108040"/>
<circle cx="1374.0" cy="298.8" r="3.6" fill="#109050"/>
<circle cx="1376.1" cy="314.6" r="3.6" fill="#10b040"/>
<circle cx="1380.9" cy="314.1" r="3.6" fill="#a0b010"/>
<circle cx="1387.1" cy="320.7" r="3.6" fill="#f09000"/>
<circle cx="1368.0" cy="327.4" r="3.6" fill="#d02010"/>
<circle cx="1370.9" cy="336.5" r="3.6" fill="#10c040"/>
<circle cx="1360.9" cy="340.3" r="3.6" fill="#10a020"/>
<circle cx="1381.4" cy="339.3" r="3.6" fill="#10c0b0"/>
<circle cx="1393.8" cy="337.4" r="3.6" fill="#10b040"/>
<circle cx="1390.9" cy="333.6" r="3.6" fill="#40a010"/>
<circle cx="1394.7" cy="333.1" r="3.6" fill="#a07010"/>
<circle cx="1398.0" cy="333.1" r="3.6" fill="#e01030"/>
<circle cx="1395.2" cy="341.2" r="3.6" fill="#10b040"/>
<circle cx="1410.4" cy="341.2" r="3.6" fill="#c06010"/>
<circle cx="1408.5" cy="345.1" r="3.6" fill="#a0c010"/>
<circle cx="1436.7" cy="342.2" r="3.6" fill="#308020"/>
<circle cx="1394.7" cy="351.7" r="3.6" fill="#109040"/>
<circle cx="1396.6" cy="357.0" r="3.6" fill="#d0c010"/>
<circle cx="1406.1" cy="357.5" r="3.6" fill="#10b030"/>
<circle cx="1399.0" cy="360.3" r="3.6" fill="#90c010"/>
<circle cx="1400.4" cy="362.7" r="3.6" fill="#80a010"/>
<circle cx="1368.5" cy="374.8" r="3.6" fill="#e06010"/>
<circle cx="1402.3" cy="373.4" r="3.6" fill="#a0c010"/>
<circle cx="1401.4" cy="380.5" r="3.6" fill="#10a030"/>
<circle cx="1406.1" cy="380.5" r="3.6" fill="#10a030"/>
<circle cx="1405.2" cy="388.1" r="3.6" fill="#e0d000"/>
<circle cx="1413.3" cy="387.2" r="3.6" fill="#d01010"/>
<circle cx="1416.2" cy="387.7" r="3.6" fill="#d01010"/>
<circle cx="1397.6" cy="405.8" r="3.6" fill="#207820"/>
<circle cx="1415.7" cy="402.0" r="3.6" fill="#f08000"/>
<circle cx="1419.5" cy="407.2" r="3.6" fill="#f07010"/>
<circle cx="1418.5" cy="414.8" r="3.6" fill="#f0c000"/>
<circle cx="1445.2" cy="402.4" r="3.6" fill="#80b010"/>
<circle cx="1408.0" cy="424.9" r="3.6" fill="#e02050"/>
<circle cx="1410.4" cy="461.1" r="3.6" fill="#50b010"/>
<circle cx="1431.9" cy="480.1" r="3.6" fill="#409010"/>
<circle cx="1408.0" cy="491.9" r="3.6" fill="#208010"/>
<circle cx="1395.1" cy="537.7" r="3.6" fill="#505020"/>
<circle cx="1397.6" cy="537.7" r="3.6" fill="#505020"/>
<circle cx="1368.2" cy="616.3" r="3.6" fill="#2080d0"/>
<circle cx="1370.9" cy="623.5" r="3.6" fill="#10a040"/>
<circle cx="1376.7" cy="632.5" r="3.6" fill="#f0b020"/>
<circle cx="1373.5" cy="710.4" r="3.6" fill="#10a0a0"/>
<circle cx="1379.5" cy="748.5" r="3.6" fill="#10a0a0"/>
<circle cx="1392.0" cy="796.2" r="3.6" fill="#10c0a0"/>
<circle cx="918.9" cy="128.9" r="3.6" fill="#a040d0"/>
<circle cx="1067.1" cy="150.5" r="3.6" fill="#1090c0"/>
<circle cx="871.9" cy="219.7" r="3.6" fill="#4030e0"/>
<ellipse cx="971.6999999999999" cy="187" rx="131.5" ry="73.4" fill="none" stroke="#80c4ac" stroke-width="2.1"/>
<path d="M972.1999999999999,260.5 L972.1999999999999,297.5 M966.1999999999999,290 L972.1999999999999,297.5 L978.1999999999999,290" fill="none" stroke="#80c4ac" stroke-width="1.8"/>
<text x="971.9" y="345" text-anchor="middle" font-family="Liberation Serif, serif" font-size="39" fill="#4cc796">PREW</text>
<text x="1337.0" y="271" text-anchor="middle" font-family="Liberation Serif, serif" font-size="39" fill="#f01020">SCSBK</text>
<ellipse cx="1441.5" cy="366" rx="30.8" ry="63.5" fill="none" stroke="#ea4458" stroke-width="2.1"/>
<path d="M1438.5,302 L1403.5,282 M1412.5,281 L1403.5,282 L1408.0,290" fill="none" stroke="#ea4458" stroke-width="1.8"/>
<ellipse cx="1379.5" cy="734.4" rx="80" ry="73" fill="none" stroke="#849cd6" stroke-width="2"/>
<path d="M1299.5,734 L1274.5,734 M1281.5,728 L1274.5,734 L1281.5,740" fill="none" stroke="#849cd6" stroke-width="2"/>
<text x="1194.0" y="746" text-anchor="middle" font-family="Liberation Serif, serif" font-size="38.5" fill="#5f84dc">SCSBW</text>
<defs><linearGradient id="gA" x1="0" y1="54.6" x2="0" y2="803.5" gradientUnits="userSpaceOnUse"><stop offset="0.0000" stop-color="#f9bc88"/><stop offset="0.0286" stop-color="#f4a078"/><stop offset="0.0473" stop-color="#ec7070"/><stop offset="0.0700" stop-color="#e43a52"/><stop offset="0.1007" stop-color="#d81840"/><stop offset="0.1301" stop-color="#dc1830"/><stop offset="0.1568" stop-color="#e02010"/><stop offset="0.1781" stop-color="#e84010"/><stop offset="0.1942" stop-color="#f06810"/><stop offset="0.2195" stop-color="#f88c10"/><stop offset="0.2476" stop-color="#f8a400"/><stop offset="0.2769" stop-color="#f8b800"/><stop offset="0.3143" stop-color="#f8d000"/><stop offset="0.3571" stop-color="#e0c800"/><stop offset="0.3944" stop-color="#b0c010"/><stop offset="0.4345" stop-color="#70b820"/><stop offset="0.4746" stop-color="#40a828"/><stop offset="0.5413" stop-color="#20a830"/><stop offset="0.5947" stop-color="#10b848"/><stop offset="0.6348" stop-color="#10c880"/><stop offset="0.6749" stop-color="#10c0b0"/><stop offset="0.7243" stop-color="#20a8e0"/><stop offset="0.7550" stop-color="#2890f0"/><stop offset="0.7817" stop-color="#3878f8"/><stop offset="0.8351" stop-color="#4860f8"/><stop offset="0.8885" stop-color="#5848f8"/><stop offset="0.9072" stop-color="#6040f0"/><stop offset="0.9419" stop-color="#8040f0"/><stop offset="0.9820" stop-color="#c060f0"/><stop offset="1.0000" stop-color="#e080f0"/></linearGradient></defs>
<path d="M708.6,54.6 L717.8000000000001,41.5 L727.0,54.6 L727.0,803.5 L717.8000000000001,813.6 L708.6,803.5 Z" fill="url(#gA)" stroke="#8a8a8a" stroke-width="0.8"/>
<line x1="708.6" y1="52" x2="711.6" y2="52" stroke="#333" stroke-width="1"/>
<line x1="724.0" y1="52" x2="727.0" y2="52" stroke="#333" stroke-width="1"/>
<text x="731.0" y="58.6" class="k" font-family="Liberation Sans, sans-serif" font-weight="bold" font-style="italic" font-size="20.5" fill="#000">20</text>
<line x1="708.6" y1="188.7" x2="711.6" y2="188.7" stroke="#333" stroke-width="1"/>
<line x1="724.0" y1="188.7" x2="727.0" y2="188.7" stroke="#333" stroke-width="1"/>
<text x="731.0" y="195.29999999999998" class="k" font-family="Liberation Sans, sans-serif" font-weight="bold" font-style="italic" font-size="20.5" fill="#000">15</text>
<line x1="708.6" y1="325" x2="711.6" y2="325" stroke="#333" stroke-width="1"/>
<line x1="724.0" y1="325" x2="727.0" y2="325" stroke="#333" stroke-width="1"/>
<text x="731.0" y="331.6" class="k" font-family="Liberation Sans, sans-serif" font-weight="bold" font-style="italic" font-size="20.5" fill="#000">10</text>
<line x1="708.6" y1="461.2" x2="711.6" y2="461.2" stroke="#333" stroke-width="1"/>
<line x1="724.0" y1="461.2" x2="727.0" y2="461.2" stroke="#333" stroke-width="1"/>
<text x="731.0" y="467.8" class="k" font-family="Liberation Sans, sans-serif" font-weight="bold" font-style="italic" font-size="20.5" fill="#000">5</text>
<line x1="708.6" y1="597.5" x2="711.6" y2="597.5" stroke="#333" stroke-width="1"/>
<line x1="724.0" y1="597.5" x2="727.0" y2="597.5" stroke="#333" stroke-width="1"/>
<text x="731.0" y="604.1" class="k" font-family="Liberation Sans, sans-serif" font-weight="bold" font-style="italic" font-size="20.5" fill="#000">0</text>
<line x1="708.6" y1="734" x2="711.6" y2="734" stroke="#333" stroke-width="1"/>
<line x1="724.0" y1="734" x2="727.0" y2="734" stroke="#333" stroke-width="1"/>
<text x="731.0" y="740.6" class="k" font-family="Liberation Sans, sans-serif" font-weight="bold" font-style="italic" font-size="20.5" fill="#000">-5</text>
<text class="k" transform="translate(705.8,800) rotate(-90)" font-family="Liberation Sans, sans-serif" font-weight="bold" font-style="italic" font-size="12.5" fill="#111">Ocean Data View</text>
<defs><linearGradient id="gB" x1="0" y1="54.6" x2="0" y2="803.5" gradientUnits="userSpaceOnUse"><stop offset="0.0000" stop-color="#f9bc88"/><stop offset="0.0286" stop-color="#f4a078"/><stop offset="0.0473" stop-color="#ec7070"/><stop offset="0.0700" stop-color="#e43a52"/><stop offset="0.1007" stop-color="#d81840"/><stop offset="0.1301" stop-color="#dc1830"/><stop offset="0.1568" stop-color="#e02010"/><stop offset="0.1781" stop-color="#e84010"/><stop offset="0.1942" stop-color="#f06810"/><stop offset="0.2195" stop-color="#f88c10"/><stop offset="0.2476" stop-color="#f8a400"/><stop offset="0.2769" stop-color="#f8b800"/><stop offset="0.3143" stop-color="#f8d000"/><stop offset="0.3571" stop-color="#e0c800"/><stop offset="0.3944" stop-color="#b0c010"/><stop offset="0.4345" stop-color="#70b820"/><stop offset="0.4746" stop-color="#40a828"/><stop offset="0.5413" stop-color="#20a830"/><stop offset="0.5947" stop-color="#10b848"/><stop offset="0.6348" stop-color="#10c880"/><stop offset="0.6749" stop-color="#10c0b0"/><stop offset="0.7243" stop-color="#20a8e0"/><stop offset="0.7550" stop-color="#2890f0"/><stop offset="0.7817" stop-color="#3878f8"/><stop offset="0.8351" stop-color="#4860f8"/><stop offset="0.8885" stop-color="#5848f8"/><stop offset="0.9072" stop-color="#6040f0"/><stop offset="0.9419" stop-color="#8040f0"/><stop offset="0.9820" stop-color="#c060f0"/><stop offset="1.0000" stop-color="#e080f0"/></linearGradient></defs>
<path d="M1474.2,54.6 L1483.4,41.5 L1492.6000000000001,54.6 L1492.6000000000001,803.5 L1483.4,813.6 L1474.2,803.5 Z" fill="url(#gB)" stroke="#8a8a8a" stroke-width="0.8"/>
<line x1="1474.2" y1="120.60000000000002" x2="1477.2" y2="120.60000000000002" stroke="#333" stroke-width="1"/>
<line x1="1489.6000000000001" y1="120.60000000000002" x2="1492.6000000000001" y2="120.60000000000002" stroke="#333" stroke-width="1"/>
<text x="1496.6000000000001" y="127.20000000000002" class="k" font-family="Liberation Sans, sans-serif" font-weight="bold" font-style="italic" font-size="20.5" fill="#000">0.8</text>
<line x1="1474.2" y1="256.98" x2="1477.2" y2="256.98" stroke="#333" stroke-width="1"/>
<line x1="1489.6000000000001" y1="256.98" x2="1492.6000000000001" y2="256.98" stroke="#333" stroke-width="1"/>
<text x="1496.6000000000001" y="263.58000000000004" class="k" font-family="Liberation Sans, sans-serif" font-weight="bold" font-style="italic" font-size="20.5" fill="#000">0.6</text>
<line x1="1474.2" y1="393.36" x2="1477.2" y2="393.36" stroke="#333" stroke-width="1"/>
<line x1="1489.6000000000001" y1="393.36" x2="1492.6000000000001" y2="393.36" stroke="#333" stroke-width="1"/>
<text x="1496.6000000000001" y="399.96000000000004" class="k" font-family="Liberation Sans, sans-serif" font-weight="bold" font-style="italic" font-size="20.5" fill="#000">0.4</text>
<line x1="1474.2" y1="529.74" x2="1477.2" y2="529.74" stroke="#333" stroke-width="1"/>
<line x1="1489.6000000000001" y1="529.74" x2="1492.6000000000001" y2="529.74" stroke="#333" stroke-width="1"/>
<text x="1496.6000000000001" y="536.34" class="k" font-family="Liberation Sans, sans-serif" font-weight="bold" font-style="italic" font-size="20.5" fill="#000">0.2</text>
<line x1="1474.2" y1="666.12" x2="1477.2" y2="666.12" stroke="#333" stroke-width="1"/>
<line x1="1489.6000000000001" y1="666.12" x2="1492.6000000000001" y2="666.12" stroke="#333" stroke-width="1"/>
<text x="1496.6000000000001" y="672.72" class="k" font-family="Liberation Sans, sans-serif" font-weight="bold" font-style="italic" font-size="20.5" fill="#000">0</text>
<line x1="1474.2" y1="802.5" x2="1477.2" y2="802.5" stroke="#333" stroke-width="1"/>
<line x1="1489.6000000000001" y1="802.5" x2="1492.6000000000001" y2="802.5" stroke="#333" stroke-width="1"/>
<text x="1496.6000000000001" y="809.1" class="k" font-family="Liberation Sans, sans-serif" font-weight="bold" font-style="italic" font-size="20.5" fill="#000">-0.2</text>
<text class="k" transform="translate(1471.4,800) rotate(-90)" font-family="Liberation Sans, sans-serif" font-weight="bold" font-style="italic" font-size="12.5" fill="#111">Ocean Data View</text>
<text class="k" x="9" y="33.5" font-family="Liberation Sans, sans-serif" font-weight="bold" font-size="29.5">A</text>
<text class="k" x="791.5" y="33.5" font-family="Liberation Sans, sans-serif" font-weight="bold" font-size="29.5">B</text>
<text class="k" x="689.5" y="35" text-anchor="end" font-family="Liberation Serif, serif" font-size="32.5">δD(‰)</text>
<text class="k" y="35" font-family="Liberation Serif, serif" font-size="32"><tspan x="1335.5">δ</tspan><tspan x="1352.8" font-size="20" dy="-6.5">18</tspan><tspan x="1373" dy="6.5">O(‰)</tspan></text>
<text x="383.5" y="878.5" class="k" text-anchor="middle" font-family="Liberation Sans, sans-serif" font-size="29">Salinity</text>
<text x="1149" y="878.5" class="k" text-anchor="middle" font-family="Liberation Sans, sans-serif" font-size="29">Salinity</text>
<text class="k" transform="translate(33.6,414) rotate(-90)" text-anchor="middle" font-family="Liberation Serif, serif" font-size="38.8">Potential Temperature(°C)</text>
</svg>
</div>
</body></html>
